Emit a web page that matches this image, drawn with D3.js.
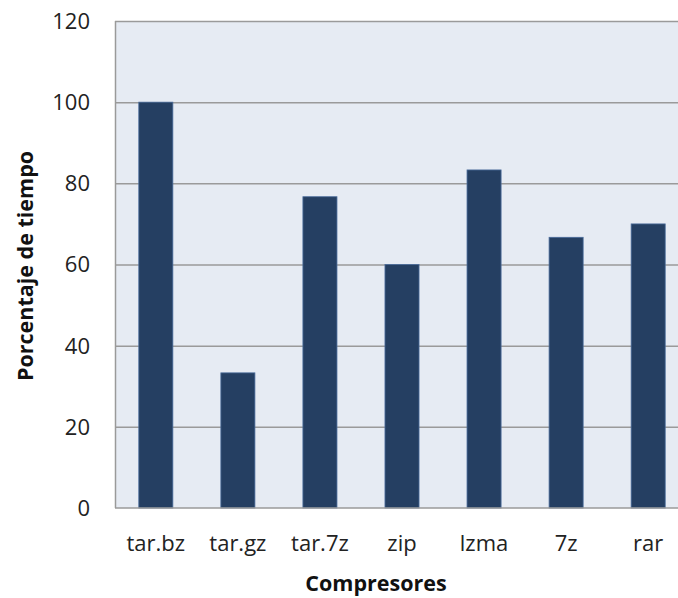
<!DOCTYPE html>
<html><head><meta charset="utf-8">
<script src="https://cdn.jsdelivr.net/npm/d3@7"></script>
<style>body{margin:0;background:#fff;overflow:hidden}</style>
</head><body>
<svg id="chart" width="678" height="598"></svg>
<script>
const categories = ["tar.bz", "tar.gz", "tar.7z", "zip", "lzma", "7z", "rar"];
const values = [100, 33.3, 76.7, 60, 83.3, 66.7, 70];
const yTicks = [0, 20, 40, 60, 80, 100, 120];

const svg = d3.select("#chart");
const font = "'Open Sans', Lato, sans-serif";
const m = {left: 115, top: 21, right: 689, bottom: 508};

const x = d3.scaleBand().domain(categories).range([m.left, m.right]).paddingInner(0.585).paddingOuter(0.29);
const y = d3.scaleLinear().domain([0, 120]).range([m.bottom, m.top]);

// plot background
svg.append("rect").attr("x", m.left).attr("y", m.top)
  .attr("width", m.right - m.left).attr("height", m.bottom - m.top)
  .attr("fill", "#E6EBF3");

// gridlines
svg.append("g").selectAll("line").data(yTicks.filter(t => t > 0)).join("line")
  .attr("x1", m.left).attr("x2", m.right)
  .attr("y1", d => y(d) + 0.5).attr("y2", d => y(d) + 0.5)
  .attr("stroke", "#9a9a9a").attr("stroke-width", 1.5);

// bars
svg.append("g").selectAll("rect").data(values).join("rect")
  .attr("x", (d, i) => x(categories[i]))
  .attr("y", d => y(d))
  .attr("width", x.bandwidth())
  .attr("height", d => y(0) - y(d))
  .attr("fill", "#253F62")
  .attr("stroke", "#4A6C9B").attr("stroke-width", 0.8);

// axis lines
svg.append("line").attr("x1", m.left + 0.5).attr("x2", m.left + 0.5)
  .attr("y1", m.top).attr("y2", m.bottom).attr("stroke", "#9a9a9a").attr("stroke-width", 1.5);
svg.append("line").attr("x1", m.left).attr("x2", m.right)
  .attr("y1", m.bottom).attr("y2", m.bottom).attr("stroke", "#9a9a9a").attr("stroke-width", 1.5);

// y tick labels
svg.append("g").selectAll("text").data(yTicks).join("text")
  .attr("x", 90).attr("y", d => y(d)).attr("dy", "0.36em")
  .attr("text-anchor", "end").attr("font-family", font).attr("font-size", 22)
  .attr("fill", "#222").text(d => d);

// x tick labels
svg.append("g").selectAll("text").data(categories).join("text")
  .attr("x", d => x(d) + x.bandwidth() / 2).attr("y", 551)
  .attr("text-anchor", "middle").attr("font-family", font).attr("font-size", 22)
  .attr("fill", "#222").text(d => d);

// axis titles
svg.append("text").attr("x", 376).attr("y", 591).attr("text-anchor", "middle")
  .attr("font-family", font).attr("font-size", 21.5).attr("font-weight", "bold")
  .attr("fill", "#111").text("Compresores");
svg.append("text").attr("transform", "translate(33,266) rotate(-90)").attr("text-anchor", "middle")
  .attr("font-family", font).attr("font-size", 21.5).attr("font-weight", "bold")
  .attr("fill", "#111").text("Porcentaje de tiempo");
</script>
</body></html>
